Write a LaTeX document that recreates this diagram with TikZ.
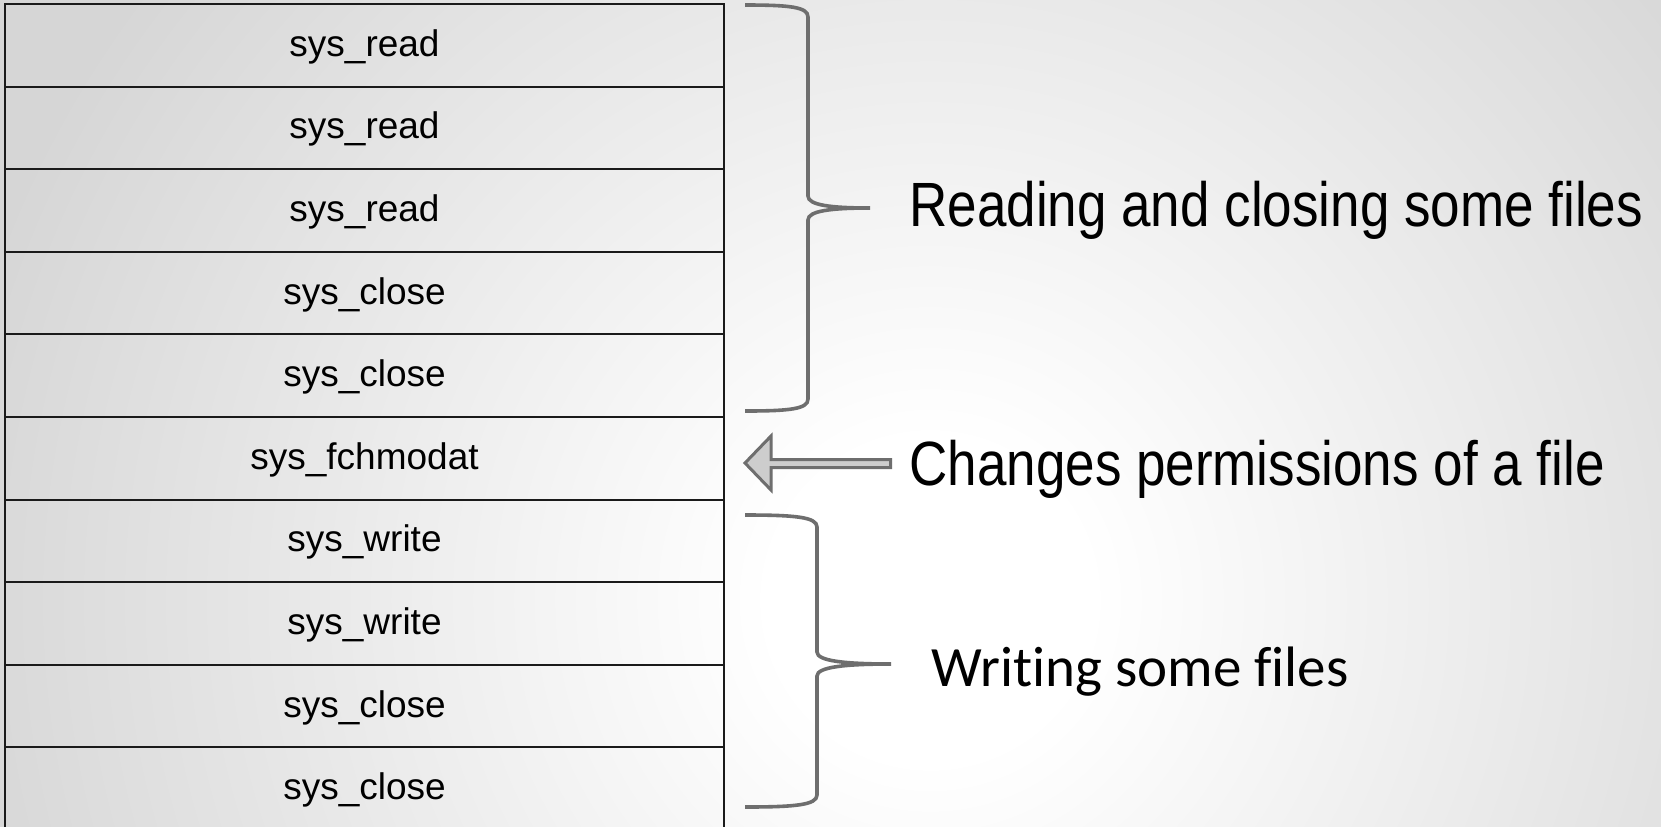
\documentclass[tikz,border=0pt]{standalone}
\usepackage{fontspec}
\setmainfont{Liberation Sans}
\newfontfamily\carlitofont[Ligatures={NoCommon}]{Carlito}
\usepackage{graphicx}
\definecolor{bggray}{HTML}{D6D6D6}
\definecolor{bracegray}{HTML}{6E6E6E}
\definecolor{arrowfill}{HTML}{CDCDCD}
\definecolor{cellline}{HTML}{1A1A1A}
\pgfdeclareradialshading{bgshade}{\pgfpoint{0bp}{0bp}}{color(0bp)=(white); color(2bp)=(white); color(12.5bp)=(bggray); color(50bp)=(bggray)}
\begin{document}
\begin{tikzpicture}[x=0.5pt,y=-0.5pt,
  cell/.style={draw=cellline, line width=1pt, minimum width=359.5pt, minimum height=41.3pt,
    inner sep=0pt, text height=15pt, text depth=4pt, font=\fontsize{18.5}{20}\selectfont},
  brace/.style={draw=bracegray, line width=1.8pt},
  biglabel/.style={anchor=base west, inner sep=0pt, font=\fontsize{26.5}{30}\selectfont},
  fatarrow/.style={draw=bracegray, fill=arrowfill, line width=1.5pt, line join=miter}]
\useasboundingbox (0,0) rectangle (1661,826);
\clip (0,0) rectangle (1661,826);
\shade[shading=bgshade] (930,600) circle (2000);
% table rows
\foreach \t [count=\i from 0] in {sys\_read,sys\_read,sys\_read,sys\_close,sys\_close,sys\_fchmodat,sys\_write,sys\_write,sys\_close,sys\_close}
  \node[cell] (r\i) at (364.5,{45.3+82.6*\i}) {\t};
% upper brace
\coordinate (b1top) at (745,5);
\coordinate (b1tip) at (870,208);
\coordinate (b1bot) at (745,411);
\draw[brace] (b1top) .. controls (790,5) and (808,7) .. (808,17) -- (808,196)
  .. controls (808,205) and (830,208) .. (b1tip)
  .. controls (830,208) and (808,211) .. (808,220) -- (808,399)
  .. controls (808,409) and (790,411) .. (b1bot);
% lower brace
\coordinate (b2top) at (745,515);
\coordinate (b2tip) at (891,664);
\coordinate (b2bot) at (745,807);
\draw[brace] (b2top) .. controls (795,515) and (817,517) .. (817,527) -- (817,652)
  .. controls (817,661) and (845,664) .. (b2tip)
  .. controls (845,664) and (817,667) .. (817,676) -- (817,795)
  .. controls (817,805) and (795,807) .. (b2bot);
% arrow
\coordinate (atip) at (745,463);
\draw[fatarrow] (atip) -- (771,436) -- (771,459.5) -- (890.5,459.5) -- (890.5,467.5)
  -- (771,467.5) -- (771,490) -- cycle;
% labels
\node[biglabel] (lread) at (909,226) {\scalebox{1}[1.18]{Reading and closing some files}};
\node[biglabel] (lperm) at (909,485.7) {\scalebox{1}[1.18]{Changes permissions of a file}};
\node[biglabel, font=\carlitofont\fontsize{28.5}{32}\selectfont] (lwrite) at (931,686) {Writing some files};
\end{tikzpicture}
\end{document}
